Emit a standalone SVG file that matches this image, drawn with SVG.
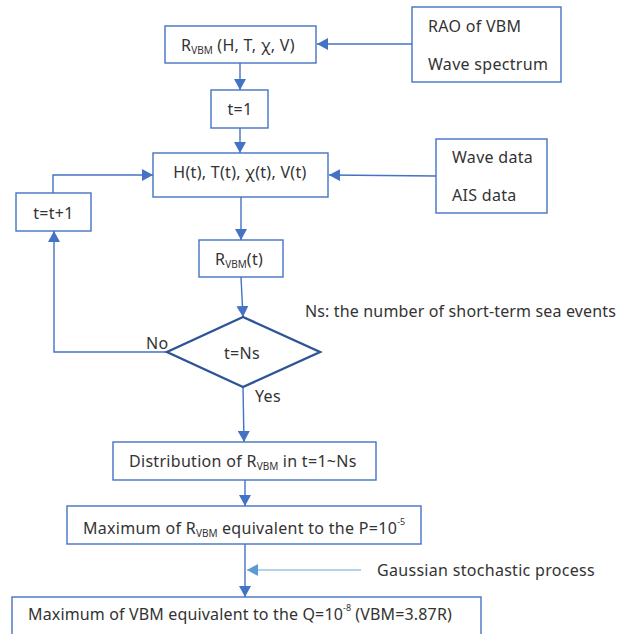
<svg xmlns="http://www.w3.org/2000/svg" width="629" height="634" viewBox="0 0 629 634">
<style>
.box{fill:#fff;stroke:#4472C4;stroke-width:1.4}
.dia{fill:#fff;stroke:#2F5597;stroke-width:2.4}
.ln{fill:none;stroke:#4472C4;stroke-width:1.4}
.lt{fill:none;stroke:#9DC3E6;stroke-width:1.6}
text{font-family:"Noto Sans","Liberation Sans",sans-serif;font-size:16px;fill:#333;letter-spacing:0.3px}
.tight{letter-spacing:0.15px}
.sub{font-size:10px;letter-spacing:0}
.sup{font-size:9px;letter-spacing:0}
</style>
<defs>
<marker id="arr" markerUnits="userSpaceOnUse" markerWidth="12" markerHeight="12" refX="11" refY="6" orient="auto">
<path d="M0,0 L11,6 L0,12 z" fill="#4472C4"/>
</marker>
<marker id="arrl" markerUnits="userSpaceOnUse" markerWidth="12" markerHeight="12" refX="11" refY="6" orient="auto">
<path d="M0,0 L11,6 L0,12 z" fill="#5B9BD5"/>
</marker>
</defs>
<g id="connectors">
<line class="ln" x1="412" y1="44" x2="317" y2="44" marker-end="url(#arr)"/>
<line class="ln" x1="240" y1="63" x2="240" y2="90" marker-end="url(#arr)"/>
<line class="ln" x1="240" y1="128" x2="240" y2="153" marker-end="url(#arr)"/>
<line class="ln" x1="436" y1="176" x2="329" y2="175" marker-end="url(#arr)"/>
<line class="ln" x1="241" y1="197" x2="241" y2="240" marker-end="url(#arr)"/>
<line class="ln" x1="241" y1="277" x2="243" y2="317" marker-end="url(#arr)"/>
<polyline class="ln" points="167,352 54,352 54,231" marker-end="url(#arr)"/>
<polyline class="ln" points="53,193 53,175 153,175" marker-end="url(#arr)"/>
<line class="ln" x1="243" y1="387" x2="244" y2="442" marker-end="url(#arr)"/>
<line class="ln" x1="245" y1="480" x2="245" y2="506" marker-end="url(#arr)"/>
<line class="ln" x1="245" y1="544" x2="245" y2="597" marker-end="url(#arr)"/>
<line class="lt" x1="361" y1="570" x2="247" y2="570" marker-end="url(#arrl)"/>
</g>
<g id="n-rvbm-htxv">
<rect class="box" x="165" y="26" width="151" height="37"/>
<text x="181" y="51">R<tspan class="sub" dy="3">VBM</tspan><tspan dy="-3"> (H, T, χ, V)</tspan></text>
</g>
<g id="n-rao">
<rect class="box" x="412" y="7" width="149" height="75"/>
<text x="428" y="32">RAO of VBM</text>
<text x="428" y="70">Wave spectrum</text>
</g>
<g id="n-t1">
<rect class="box" x="211" y="90" width="57" height="38"/>
<text x="240" y="115" text-anchor="middle">t=1</text>
</g>
<g id="n-htxv-t">
<rect class="box" x="153" y="153" width="175" height="44"/>
<text x="240" y="178" text-anchor="middle">H(t), T(t), χ(t), V(t)</text>
</g>
<g id="n-wave">
<rect class="box" x="436" y="139" width="111" height="74"/>
<text x="452" y="163">Wave data</text>
<text x="452" y="201">AIS data</text>
</g>
<g id="n-tt1">
<rect class="box" x="16" y="193" width="75" height="38"/>
<text x="53.5" y="219" text-anchor="middle">t=t+1</text>
</g>
<g id="n-rvbm-t">
<rect class="box" x="199" y="240" width="84" height="37"/>
<text x="215" y="265">R<tspan class="sub" dy="3">VBM</tspan><tspan dy="-3">(t)</tspan></text>
</g>
<g id="n-decision">
<polygon class="dia" points="243,317 320,352 243,387 167,352"/>
<text x="242" y="359" text-anchor="middle">t=Ns</text>
<text x="146" y="349">No</text>
<text x="255" y="402">Yes</text>
</g>
<text id="note-ns" class="tight" x="305" y="317">Ns: the number of short-term sea events</text>
<g id="n-dist">
<rect class="box" x="113" y="442" width="263" height="38"/>
<text x="129" y="467">Distribution of R<tspan class="sub" dy="3">VBM</tspan><tspan dy="-3"> in t=1~Ns</tspan></text>
</g>
<g id="n-max-r">
<rect class="box" x="67" y="506" width="354" height="38"/>
<text x="83" y="534">Maximum of R<tspan class="sub" dy="3">VBM</tspan><tspan dy="-3"> equivalent to the P=10</tspan><tspan class="sup" dy="-9">-5</tspan></text>
</g>
<text id="note-gauss" x="377" y="576">Gaussian stochastic process</text>
<g id="n-max-vbm">
<rect class="box" x="12" y="597" width="469" height="50"/>
<text x="28" y="620" class="tight">Maximum of VBM equivalent to the Q=10<tspan class="sup" dy="-9">-8</tspan><tspan dy="9"> (VBM=3.87R)</tspan></text>
</g>
</svg>
